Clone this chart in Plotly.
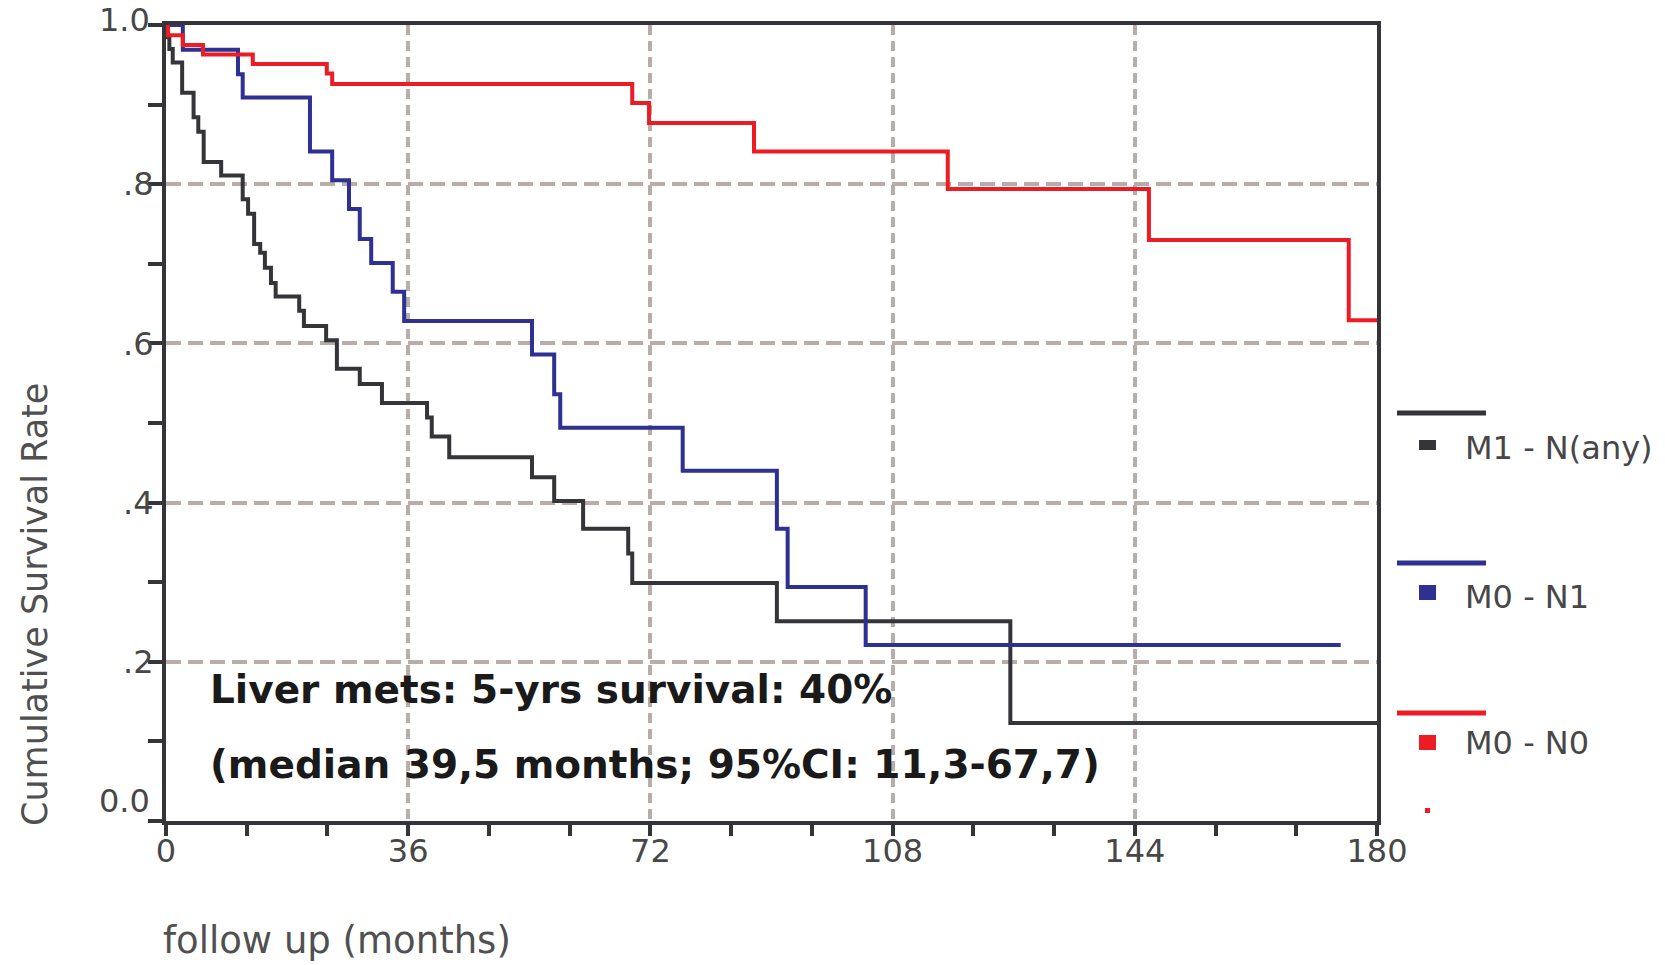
import plotly.graph_objects as go

# ---------------- data ----------------
black_t = [0, 0.2, 0.5, 1.0, 2.4, 4.1, 4.8, 5.6, 8.2, 11.4, 12.2, 13.1, 14.0, 14.7, 15.6, 16.3,
           19.8, 20.5, 23.8, 25.4, 28.8, 32.1, 38.8, 39.5, 42.1, 54.4, 57.7, 62.0, 68.7, 69.3,
           90.8, 125.5, 180]
black_s = [1.0, 0.985, 0.97, 0.953, 0.915, 0.884, 0.866, 0.828, 0.811, 0.781, 0.763, 0.725, 0.714,
           0.695, 0.676, 0.659, 0.641, 0.622, 0.604, 0.568, 0.549, 0.525, 0.507, 0.483, 0.457,
           0.432, 0.402, 0.367, 0.336, 0.299, 0.251, 0.123, 0.123]

blue_t = [0, 2.5, 10.7, 11.4, 21.4, 24.7, 27.2, 28.8, 30.5, 33.7, 35.4, 54.4, 57.7, 58.6,
          76.8, 90.8, 92.4, 104.0, 174.6]
blue_s = [1.0, 0.969, 0.938, 0.909, 0.841, 0.805, 0.769, 0.731, 0.701, 0.665, 0.628, 0.586,
          0.536, 0.494, 0.440, 0.367, 0.294, 0.221, 0.221]

red_t = [0, 0.3, 2.5, 5.5, 12.9, 23.9, 24.7, 69.3, 71.8, 87.4, 116.2, 146.1, 175.8, 180]
red_s = [1.0, 0.987, 0.975, 0.963, 0.951, 0.939, 0.926, 0.902, 0.877, 0.841, 0.794, 0.730,
         0.629, 0.629]

series_names = ["M1 - N(any)", "M0 - N1", "M0 - N0"]
series_colors = ["#353438", "#2e3192", "#ed1c24"]

y_tickvals = [0.2, 0.4, 0.6, 0.8]
y_ticktext = [".2", ".4", ".6", ".8"]

note_lines = ["Liver mets: 5-yrs survival: 40%",
              "(median 39,5 months; 95%CI: 11,3-67,7)"]

# ---------------- figure ----------------
W, H = 1665, 965
L, R, T, B = 166, 288, 25, 144
pw, ph = W - L - R, H - T - B

def px(xp):
    return (xp - L) / pw

def py(yp):
    return (H - B - yp) / ph

AX = "#353438"
GRID = "#b8ada8"
TXT = "#474747"

fig = go.Figure()
for t, s, c, n in [(black_t, black_s, series_colors[0], series_names[0]),
                   (blue_t, blue_s, series_colors[1], series_names[1]),
                   (red_t, red_s, series_colors[2], series_names[2])]:
    fig.add_trace(go.Scatter(x=t, y=s, mode="lines", name=n, showlegend=False,
                             line=dict(color=c, width=4, shape="hv"), hoverinfo="skip"))

fig.update_layout(
    width=W, height=H,
    margin=dict(l=L, r=R, t=T, b=B, pad=0),
    plot_bgcolor="white", paper_bgcolor="white",
    font=dict(family="DejaVu Sans", color=TXT),
    showlegend=False,
)

fig.update_xaxes(
    range=[0, 180], tickmode="linear", tick0=0, dtick=36,
    showline=True, linecolor=AX, linewidth=4, mirror=True,
    ticks="outside", ticklen=11, tickwidth=4, tickcolor=AX,
    tickfont=dict(size=32, color=TXT, family="DejaVu Sans"),
    ticklabelstandoff=-12,
    showgrid=True, gridcolor=GRID, gridwidth=4, griddash="10px,6px",
    zeroline=False,
    minor=dict(tickmode="linear", tick0=0, dtick=12, ticks="outside", ticklen=11,
               tickwidth=4, tickcolor=AX, showgrid=False),
)
fig.update_yaxes(
    range=[0, 1], tickmode="array", tickvals=y_tickvals, ticktext=y_ticktext,
    showline=True, linecolor=AX, linewidth=4, mirror=True,
    ticks="outside", ticklen=14, tickwidth=4, tickcolor=AX,
    tickfont=dict(size=32, color=TXT, family="DejaVu Sans"),
    ticklabelstandoff=-12,
    showgrid=True, gridcolor=GRID, gridwidth=4, griddash="15px,7px",
    zeroline=False,
    minor=dict(tickmode="linear", tick0=0, dtick=0.1, ticks="outside", ticklen=14,
               tickwidth=4, tickcolor=AX, showgrid=False),
)

ann = []
# end labels of y axis (drawn offset as in the reference)
ann.append(dict(text="1.0", xref="paper", yref="paper", x=px(152), y=py(20),
                xanchor="right", yanchor="middle", showarrow=False,
                font=dict(size=32, color=TXT)))
ann.append(dict(text="0.0", xref="paper", yref="paper", x=px(152), y=py(801),
                xanchor="right", yanchor="middle", showarrow=False,
                font=dict(size=32, color=TXT)))
# axis titles
ann.append(dict(text="follow up (months)", xref="paper", yref="paper", x=px(161), y=py(940),
                xanchor="left", yanchor="middle", showarrow=False,
                font=dict(size=37, color="#505050")))
ann.append(dict(text="Cumulative Survival Rate", xref="paper", yref="paper", x=px(35), y=py(605),
                xanchor="center", yanchor="middle", textangle=-90, showarrow=False,
                font=dict(size=35, color="#505050")))
# note text
ann.append(dict(text=note_lines[0], xref="paper", yref="paper", x=px(208), y=py(689),
                xanchor="left", yanchor="middle", showarrow=False,
                font=dict(size=39, color="#1a1a1a", family="DejaVu Sans", weight="bold")))
ann.append(dict(text=note_lines[1], xref="paper", yref="paper", x=px(208), y=py(764),
                xanchor="left", yanchor="middle", showarrow=False,
                font=dict(size=39, color="#1a1a1a", family="DejaVu Sans", weight="bold")))

shapes = []
legend_rows = [  # line y, marker top, marker bottom, text y
    (413, 440, 450, 448),
    (563, 585, 600, 597),
    (713, 735, 750, 743),
]
for (ly, mt, mb, ty), c, n in zip(legend_rows, series_colors, series_names):
    shapes.append(dict(type="line", xref="paper", yref="paper", x0=px(1397), x1=px(1486),
                       y0=py(ly), y1=py(ly), line=dict(color=c, width=5)))
    shapes.append(dict(type="rect", xref="paper", yref="paper", x0=px(1419), x1=px(1436),
                       y0=py(mb), y1=py(mt), line=dict(width=0), fillcolor=c))
    ann.append(dict(text=n, xref="paper", yref="paper", x=px(1463), y=py(ty),
                    xanchor="left", yanchor="middle", showarrow=False,
                    font=dict(size=32, color=TXT)))
# small red dot under the legend
shapes.append(dict(type="rect", xref="paper", yref="paper", x0=px(1425), x1=px(1430),
                   y0=py(813), y1=py(808), line=dict(width=0), fillcolor=series_colors[2]))

fig.update_layout(annotations=ann, shapes=shapes)

fig.write_html("out.html", config={"displayModeBar": False})
